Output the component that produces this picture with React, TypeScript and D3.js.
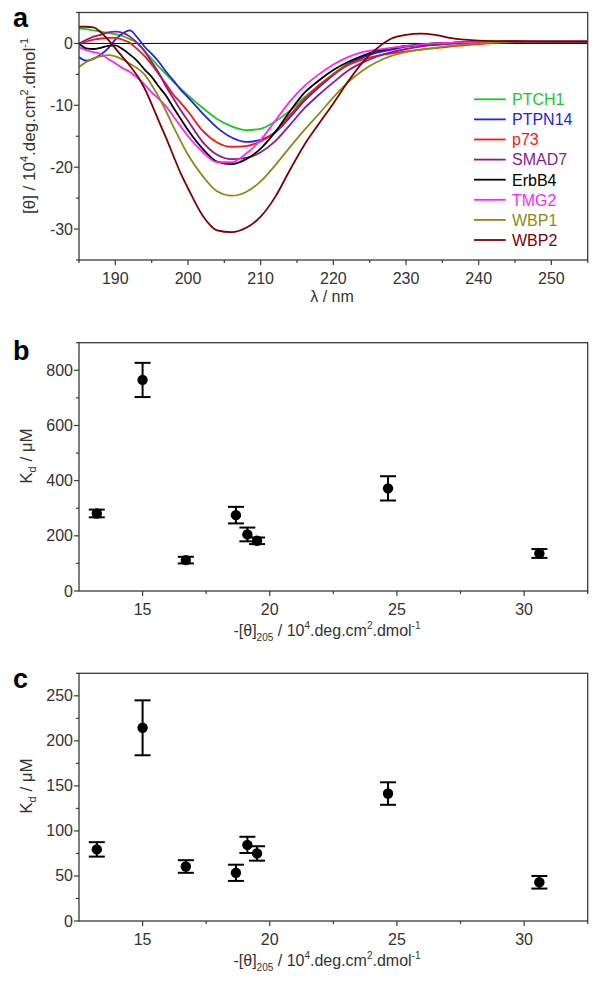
import React from 'react';
import * as d3 from 'd3';

// ---------- Panel a: CD spectra ----------
const wavelengths = [185,186,187,188,189,190,191,192,193,194,195,196,197,198,199,200,202,204,206,208,210,212,214,216,218,220,222,224,226,228,230,232,234,236,238,240,245,250,255];
const seriesNames = ['PTCH1','PTPN14','p73','SMAD7','ErbB4','TMG2','WBP1','WBP2'];
const seriesColors = ['#1ec81e','#2424e8','#ff1414','#8c1c8c','#000000','#ff24ff','#8c8c14','#800000'];
const ptch1 = [2.4,2.3,2.1,1.9,1.7,1.5,1.2,0.7,0.1,-1.2,-2.5,-3.8,-5.0,-6.2,-7.3,-8.4,-10.4,-12.2,-13.4,-14.0,-13.8,-12.6,-10.9,-8.7,-6.8,-4.9,-3.3,-2.1,-1.3,-0.8,-0.4,-0.2,0,0.1,0.2,0.25,0.3,0.3,0.3];
const ptpn14 = [-2.2,-2.8,-2.5,-1.8,-0.8,0.6,1.6,2.1,1.0,-0.5,-1.7,-3.0,-4.6,-6.0,-7.5,-8.7,-11.3,-13.6,-15.2,-15.9,-15.6,-14.4,-12.0,-9.3,-7.1,-5.1,-3.4,-2.3,-1.5,-1.0,-0.5,-0.3,-0.1,0.05,0.15,0.2,0.3,0.3,0.3];
const p73 = [0,0.3,0.6,0.8,0.9,0.9,0.6,0.1,-0.9,-2.0,-3.4,-5.0,-6.6,-8.3,-9.6,-11.0,-14.1,-16.0,-16.7,-16.6,-15.8,-14.3,-11.6,-9.0,-6.8,-5.0,-3.5,-2.6,-2.0,-1.6,-1.3,-1.0,-0.75,-0.5,-0.3,-0.1,0.2,0.3,0.3];
const smad7 = [0,0.6,1.1,1.4,1.8,1.9,1.7,1.1,0.1,-1.2,-3.0,-4.8,-7.0,-8.9,-10.8,-12.5,-15.9,-18.0,-18.7,-18.5,-17.6,-15.8,-13.2,-10.5,-8.3,-6.3,-4.4,-3.1,-2.1,-1.4,-0.9,-0.5,-0.25,-0.05,0.1,0.2,0.3,0.3,0.3];
const erbb4 = [0,-0.8,-0.9,-0.7,-0.4,-0.3,-0.9,-1.8,-2.8,-4.2,-5.4,-7.0,-8.5,-10.4,-12.2,-14.0,-17.0,-19.1,-19.5,-18.7,-17.0,-14.3,-11.0,-8.0,-6.0,-4.3,-3.0,-2.0,-1.2,-0.8,-0.4,-0.2,0,0.1,0.2,0.25,0.3,0.3,0.3];
const tmg2 = [-0.6,-1.1,-1.4,-1.7,-2.5,-3.2,-4.0,-4.6,-5.5,-6.6,-7.9,-9.0,-10.2,-11.8,-13.4,-15.0,-17.5,-19.2,-19.2,-17.8,-15.6,-12.5,-9.4,-6.9,-5.0,-3.4,-2.2,-1.4,-1.0,-0.7,-0.45,-0.2,0,0.1,0.2,0.25,0.3,0.3,0.3];
const wbp1 = [-3.8,-3.0,-2.4,-2.1,-1.9,-2.1,-2.6,-3.3,-4.0,-5.0,-6.7,-8.7,-11.0,-13.5,-15.8,-18.0,-21.4,-23.9,-24.6,-24.0,-22.3,-19.7,-16.8,-14.0,-11.4,-8.7,-6.3,-4.4,-3.0,-2.0,-1.4,-1.0,-0.7,-0.4,-0.15,0,0.3,0.3,0.3];
const wbp2 = [2.7,2.7,2.6,1.8,0.6,-0.8,-2.2,-3.6,-5.2,-7.2,-9.8,-12.6,-15.3,-18.2,-21.0,-23.4,-27.8,-30.2,-30.5,-29.8,-28.0,-24.8,-20.5,-16.4,-13.0,-9.7,-6.2,-3.1,-0.8,0.8,1.4,1.6,1.4,0.9,0.6,0.45,0.35,0.3,0.3];
const seriesValues = [ptch1, ptpn14, p73, smad7, erbb4, tmg2, wbp1, wbp2];
const aXTicks = [190,200,210,220,230,240,250];
const aXMinor = [185,195,205,215,225,235,245,255];
const aYTicks = [-30,-20,-10,0];
const aYMinor = [-35,-25,-15,-5,5];

// ---------- Panels b & c: Kd vs -[theta]205 ----------
const theta205 = [13.2, 15.0, 16.7, 18.67, 19.12, 19.5, 24.65, 30.6];
const kdB = [281, 765, 112, 275, 205, 182, 372, 136];
const errB = [14, 62, 12, 30, 25, 12, 44, 16];
const kdC = [79.5, 214.5, 60.5, 53.5, 84.5, 75, 141.5, 43];
const errC = [8, 30.5, 7, 9, 9, 8, 12.5, 7];
const bcXTicks = [15, 20, 25, 30];
const bcXMinor = [17.5, 22.5, 27.5, 32.5];
const bYTicks = [0, 200, 400, 600, 800];
const bYMinor = [100, 300, 500, 700, 900];
const cYTicks = [0, 50, 100, 150, 200, 250];
const cYMinor = [25, 75, 125, 175, 225, 275];

const FONT = "'Liberation Sans', Arial, Helvetica, sans-serif";
const AXIS = '#3a3a3a';
const TXT = '#333';

const L = 79, R = 587.7;

function Frame({ x, y, xt, xm, yt, ym }: any) {
  const [x0, x1] = x.range();
  const [y0, y1] = y.range(); // y0 bottom, y1 top
  return (
    <g>
      <rect x={x0} y={y1} width={x1 - x0} height={y0 - y1} fill="none" stroke={AXIS} strokeWidth={1.3} />
      {xt.map((t: number) => (
        <g key={'xt' + t}>
          <line x1={x(t)} x2={x(t)} y1={y0} y2={y0 + 5} stroke={AXIS} strokeWidth={1.2} />
          <text x={x(t)} y={y0 + 24} textAnchor="middle" fontSize={16} fill={TXT} fontFamily={FONT}>{t}</text>
        </g>
      ))}
      {xm.map((t: number) => (
        <line key={'xm' + t} x1={x(t)} x2={x(t)} y1={y0} y2={y0 + 3} stroke={AXIS} strokeWidth={1.2} />
      ))}
      {yt.map((t: number) => (
        <g key={'yt' + t}>
          <line x1={x0 - 5} x2={x0} y1={y(t)} y2={y(t)} stroke={AXIS} strokeWidth={1.2} />
          <text x={x0 - 6} y={y(t) + 5.5} textAnchor="end" fontSize={16} fill={TXT} fontFamily={FONT}>{t}</text>
        </g>
      ))}
      {ym.map((t: number) => (
        <line key={'ym' + t} x1={x0 - 3} x2={x0} y1={y(t)} y2={y(t)} stroke={AXIS} strokeWidth={1.2} />
      ))}
    </g>
  );
}

function Scatter({ x, y, vals, errs }: any) {
  return (
    <g>
      {theta205.map((t, i) => {
        const cx = x(t);
        const yt = y(vals[i] + errs[i]);
        const yb = y(vals[i] - errs[i]);
        return (
          <g key={i}>
            <line x1={cx} x2={cx} y1={yt} y2={yb} stroke="#000" strokeWidth={2} />
            <line x1={cx - 8} x2={cx + 8} y1={yt} y2={yt} stroke="#000" strokeWidth={2} />
            <line x1={cx - 8} x2={cx + 8} y1={yb} y2={yb} stroke="#000" strokeWidth={2} />
            <circle cx={cx} cy={y(vals[i])} r={5.2} fill="#000" />
          </g>
        );
      })}
    </g>
  );
}

function XTitleBC({ y }: { y: number }) {
  return (
    <text x={327} y={y} textAnchor="middle" fontSize={16} fill={TXT} fontFamily={FONT}>
      -[θ]<tspan fontSize={10} dy={5}>205</tspan>
      <tspan dy={-5}> / 10</tspan>
      <tspan fontSize={10} dy={-7}>4</tspan>
      <tspan dy={7}>.deg.cm</tspan>
      <tspan fontSize={10} dy={-7}>2</tspan>
      <tspan dy={7}>.dmol</tspan>
      <tspan fontSize={10} dy={-7}>-1</tspan>
    </text>
  );
}

function YTitleKd({ cx, cy }: { cx: number; cy: number }) {
  return (
    <text transform={`translate(${cx},${cy}) rotate(-90)`} textAnchor="middle" fontSize={17} fill={TXT} fontFamily={FONT}>
      K<tspan fontSize={11} dy={4}>d</tspan>
      <tspan dy={-4}> / {'\u03BC'}M</tspan>
    </text>
  );
}

export default function App() {
  const xA = d3.scaleLinear().domain([185, 255]).range([L, R]);
  const yA = d3.scaleLinear().domain([-35, 5]).range([260, 12.5]);
  const xB = d3.scaleLinear().domain([12.5, 32.5]).range([L, R]);
  const yB = d3.scaleLinear().domain([0, 900]).range([591, 342.7]);
  const yC = d3.scaleLinear().domain([0, 275]).range([921, 673.3]);

  const line = d3
    .line<number>()
    .x((_, i) => xA(wavelengths[i]))
    .y((d) => yA(d))
    .curve(d3.curveMonotoneX);

  const legendY = d3.scaleLinear().domain([0, 7]).range([99.3, 240]);

  return (
    <svg width={602} height={981} style={{ position: 'absolute', left: 0, top: 0, display: 'block', background: '#fff' }}>
      <defs>
        <clipPath id="clipA">
          <rect x={L} y={12.5} width={R - L} height={260 - 12.5} />
        </clipPath>
      </defs>

      {/* Panel a */}
      <text x={13} y={27} fontSize={27} fontWeight="bold" fontFamily={FONT} fill="#000">a</text>
      <line x1={L} x2={R} y1={yA(0)} y2={yA(0)} stroke="#000" strokeWidth={1} />
      <g clipPath="url(#clipA)">
        {seriesValues.map((vals, i) => (
          <path key={seriesNames[i]} d={line(vals) || ''} fill="none" stroke={seriesColors[i]} strokeWidth={1.8} />
        ))}
      </g>
      <Frame x={xA} y={yA} xt={aXTicks} xm={aXMinor} yt={aYTicks} ym={aYMinor} />
      {seriesNames.map((n, i) => (
        <g key={'lg' + n}>
          <line x1={474} x2={505.7} y1={legendY(i)} y2={legendY(i)} stroke={seriesColors[i]} strokeWidth={1.8} />
          <text x={512} y={legendY(i) + 5.8} fontSize={16} fill={seriesColors[i]} fontFamily={FONT}>{n}</text>
        </g>
      ))}
      <text x={332} y={302} textAnchor="middle" fontSize={16} fill={TXT} fontFamily={FONT}>λ / nm</text>
      <text transform={`translate(35,126) rotate(-90)`} textAnchor="middle" fontSize={17} fill={TXT} fontFamily={FONT}>
        [θ] / 10<tspan fontSize={11} dy={-7}>4</tspan>
        <tspan dy={7}>.deg.cm</tspan>
        <tspan fontSize={11} dy={-7}>2</tspan>
        <tspan dy={7}>.dmol</tspan>
        <tspan fontSize={11} dy={-7}>-1</tspan>
      </text>

      {/* Panel b */}
      <text x={13} y={360} fontSize={27} fontWeight="bold" fontFamily={FONT} fill="#000">b</text>
      <Frame x={xB} y={yB} xt={bcXTicks} xm={bcXMinor} yt={bYTicks} ym={bYMinor} />
      <Scatter x={xB} y={yB} vals={kdB} errs={errB} />
      <XTitleBC y={636} />
      <YTitleKd cx={32} cy={456} />

      {/* Panel c */}
      <text x={13} y={688} fontSize={27} fontWeight="bold" fontFamily={FONT} fill="#000">c</text>
      <Frame x={xB} y={yC} xt={bcXTicks} xm={bcXMinor} yt={cYTicks} ym={cYMinor} />
      <Scatter x={xB} y={yC} vals={kdC} errs={errC} />
      <XTitleBC y={966} />
      <YTitleKd cx={32} cy={786} />
    </svg>
  );
}
